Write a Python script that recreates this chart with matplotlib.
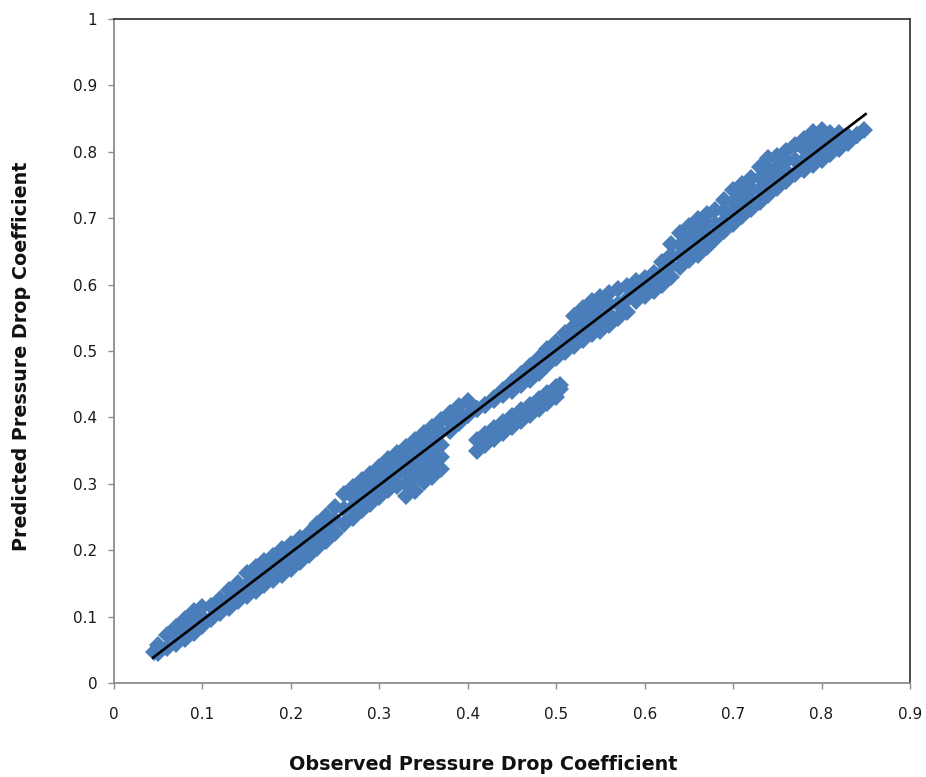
import matplotlib
matplotlib.use("Agg")
import matplotlib.pyplot as plt

# ---------------- data ----------------
start_obs, start_pred = [0.045], [0.047]
end_obs, end_pred = [0.848], [0.833]

obs_a = [0.05, 0.06, 0.07, 0.08, 0.09, 0.10, 0.11, 0.12, 0.13, 0.14, 0.15,
         0.16, 0.17, 0.18, 0.19, 0.20, 0.21, 0.22, 0.23, 0.24, 0.25]
up_a = [.057, .072, .085, .096, .108, .114, .116, .126, .140, .151, .165,
        .174, .183, .192, .202, .210, .219, .226, .239, .251, .265]
mid_a = [None, None, .072, .082, .091, .100, None, None, .126, .137, .148,
         .156, .165, .174, .182, .191, .200, .209, .221, .233, .245]
lo_a = [.045, .053, .059, .067, .075, .086, .097, .105, .113, .123, .131,
        .139, .147, .155, .163, .171, .182, .193, .203, .214, .226]

obs_b = [0.26, 0.27, 0.28, 0.29, 0.30, 0.31, 0.32, 0.33, 0.34, 0.35, 0.36,
         0.37, 0.38, 0.39, 0.40]
up_b = [.284, .295, .305, .315, .326, .337, .347, .356, .366, .376, .386,
        .396, .407, .417, .424]
mid1_b = [.262, .265, .275, .285, .295, .306, .313, .300, .308, .320, .329,
          .341, .393, .405, None]
mid2_b = [None, .280, .290, .300, .311, .321, .330, .319, .327, .339, .348,
          .359, None, None, None]
mid3_b = [None, None, None, None, None, None, None, .337, .347, .358, .367,
          .378, None, None, None]
lo_b = [.239, .249, .260, .270, .280, .290, .296, .281, .289, .302, .310,
        .322, .380, .392, .403]

obs_c = [0.41, 0.42, 0.43, 0.44, 0.45, 0.46, 0.47, 0.48, 0.49, 0.50, 0.51]
up_c = [.412, .419, .429, .441, .453, .466, .478, .490, .503, .514, .527]
mid_c = [None, None, None, None, None, None, None, .479, .491, .501, .513]
lo_c = [.413, .418, .426, .433, .440, .449, .457, .467, .479, .489, .498]

obs_d = [0.41, 0.42, 0.43, 0.44, 0.45, 0.46, 0.47, 0.48, 0.49, 0.50, 0.504]
up_d = [.366, .375, .384, .393, .402, .411, .419, .428, .437, .446, .449]
lo_d = [.349, .358, .367, .377, .386, .395, .404, .413, .422, .431, .443]

obs_e = [0.52, 0.53, 0.54, 0.55, 0.56, 0.57, 0.58, 0.59, 0.60, 0.61, 0.62,
         0.63, 0.64, 0.65]
up_e = [.553, .565, .576, .581, .588, .593, .598, .605, .610, .618, .634,
        .661, .677, .689]
mid1_e = [.523, .533, .542, .547, .555, .571, .579, .590, .596, .604, .617,
          .628, .643, .654]
mid2_e = [.538, .549, .559, .564, .571, None, None, None, None, None, None,
          .644, .660, .671]
lo_e = [.507, .517, .525, .530, .539, .549, .559, .576, .583, .590, .600,
        .611, .626, .637]

obs_f = [0.66, 0.67, 0.68, 0.69, 0.70, 0.71, 0.72, 0.73, 0.74, 0.75, 0.76,
         0.77, 0.78, 0.79, 0.80, 0.81, 0.82, 0.83, 0.84]
up_f = [.699, .706, .712, .727, .742, .752, .760, .777, .790, .793, .801,
        .810, .820, .830, .833, .829, .828, .824, .826]
mid1_f = [.662, .673, .691, .696, .709, .720, .729, .742, .753, .761, .771,
          .788, .788, .797, .803, .812, .816, None, None]
mid2_f = [.681, .690, None, .711, .725, .736, .745, .760, .772, .777, .786,
          None, .804, .813, .818, None, None, None, None]
lo_f = [.644, .657, .669, .681, .692, .704, .714, .725, .735, .745, .756,
        .766, .772, .780, .788, .796, .804, .813, .825]

fit_x = [0.043, 0.851]
fit_y = [0.037, 0.858]

x_ticks = [0, 0.1, 0.2, 0.3, 0.4, 0.5, 0.6, 0.7, 0.8, 0.9]
x_ticklabels = ["0", "0.1", "0.2", "0.3", "0.4", "0.5", "0.6", "0.7", "0.8", "0.9"]
y_ticks = [0, 0.1, 0.2, 0.3, 0.4, 0.5, 0.6, 0.7, 0.8, 0.9, 1.0]
y_ticklabels = ["0", "0.1", "0.2", "0.3", "0.4", "0.5", "0.6", "0.7", "0.8", "0.9", "1"]

# ---------------- assemble points ----------------
rows = [
    (start_obs, [start_pred]),
    (obs_a, [up_a, mid_a, lo_a]),
    (obs_b, [up_b, mid1_b, mid2_b, mid3_b, lo_b]),
    (obs_c, [up_c, mid_c, lo_c]),
    (obs_d, [up_d, lo_d]),
    (obs_e, [up_e, mid1_e, mid2_e, lo_e]),
    (obs_f, [up_f, mid1_f, mid2_f, lo_f]),
    (end_obs, [end_pred]),
]
px, py = [], []
for xs, ylists in rows:
    for ys in ylists:
        for xv, yv in zip(xs, ys):
            if yv is not None:
                px.append(xv)
                py.append(yv)

# ---------------- figure ----------------
fig = plt.figure(figsize=(9.26, 7.77), dpi=100)
ax = fig.add_axes([114 / 926, 1 - 683 / 777, (910 - 114) / 926, (683 - 19) / 777])

ax.plot(px, py, linestyle="none", marker="D", markersize=9.4,
        markerfacecolor="#4A7EBB", markeredgewidth=0, zorder=2)
ax.plot(fit_x, fit_y, color="black", linewidth=1.9, zorder=3,
        solid_capstyle="butt")

ax.set_xlim(0, 0.9)
ax.set_ylim(0, 1.0)
ax.set_xticks(x_ticks)
ax.set_xticklabels(x_ticklabels)
ax.set_yticks(y_ticks)
ax.set_yticklabels(y_ticklabels)

for side in ["left", "bottom"]:
    ax.spines[side].set_color("#8C8C8C")
    ax.spines[side].set_linewidth(1.3)
for side in ["top", "right"]:
    ax.spines[side].set_color("#3A3A3A")
    ax.spines[side].set_linewidth(1.3)

ax.tick_params(axis="both", direction="out", length=4, width=1,
               color="#8C8C8C", labelsize=11, labelcolor="#1A1A1A")
ax.tick_params(axis="x", pad=13)
ax.tick_params(axis="y", pad=8)
ax.tick_params(top=False, right=False)

fig.text(483 / 926, 1 - 765 / 777, "Observed Pressure Drop Coefficient",
         ha="center", va="center", fontsize=13.8, fontweight="bold", color="#111111")
fig.text(22 / 926, 1 - 356 / 777, "Predicted Pressure Drop Coefficient",
         ha="center", va="center", rotation=90, fontsize=13.8, fontweight="bold",
         color="#111111")

fig.savefig("out.png", dpi=100)
